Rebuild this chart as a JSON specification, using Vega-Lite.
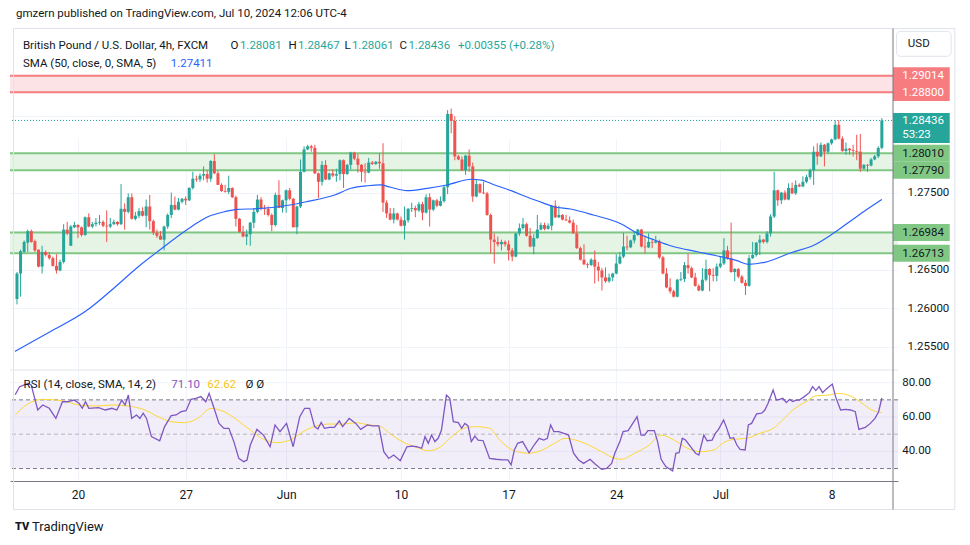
{
"$schema":"https://vega.github.io/schema/vega-lite/v6.json",
"width":888,"height":453,
"autosize":{"type":"none"},
"padding":{"left":10,"top":28,"right":72,"bottom":64},
"background":"#ffffff",
"config":{"view":{"stroke":null},"font":"Roboto"},
"datasets":{
"candles":[
{"i":0,"o":1.2612,"h":1.2647,"l":1.2605,"c":1.2645},{"i":1,"o":1.2645,"h":1.2676,"l":1.2615,"c":1.2674},{"i":2,"o":1.2673,"h":1.2688,"l":1.2672,"c":1.2686},{"i":3,"o":1.2685,"h":1.2702,"l":1.2673,"c":1.27},{"i":4,"o":1.27,"h":1.2702,"l":1.2685,"c":1.2686},{"i":5,"o":1.2687,"h":1.2689,"l":1.2673,"c":1.2675},{"i":6,"o":1.2676,"h":1.2676,"l":1.2653,"c":1.2654},{"i":7,"o":1.2654,"h":1.2681,"l":1.2645,"c":1.2673},{"i":8,"o":1.2673,"h":1.2675,"l":1.2667,"c":1.2669},{"i":9,"o":1.2669,"h":1.2673,"l":1.2663,"c":1.2665},
{"i":10,"o":1.2665,"h":1.2667,"l":1.2654,"c":1.2655},{"i":11,"o":1.2655,"h":1.267,"l":1.2645,"c":1.2649},{"i":12,"o":1.2649,"h":1.2663,"l":1.2648,"c":1.266},{"i":13,"o":1.266,"h":1.2709,"l":1.2658,"c":1.2702},{"i":14,"o":1.2702,"h":1.2712,"l":1.2695,"c":1.2697},{"i":15,"o":1.2681,"h":1.2708,"l":1.2681,"c":1.2706},{"i":16,"o":1.2705,"h":1.2712,"l":1.2704,"c":1.2708},{"i":17,"o":1.2708,"h":1.2709,"l":1.2691,"c":1.2705},{"i":18,"o":1.2705,"h":1.2706,"l":1.2693,"c":1.2695},{"i":19,"o":1.2695,"h":1.2719,"l":1.2694,"c":1.2718},
{"i":20,"o":1.2718,"h":1.2723,"l":1.2705,"c":1.2706},{"i":21,"o":1.2706,"h":1.2712,"l":1.2704,"c":1.2709},{"i":22,"o":1.2709,"h":1.2717,"l":1.2706,"c":1.2711},{"i":23,"o":1.2711,"h":1.2721,"l":1.2708,"c":1.2712},{"i":24,"o":1.2712,"h":1.2714,"l":1.2705,"c":1.2707},{"i":25,"o":1.2707,"h":1.2727,"l":1.2686,"c":1.2706},{"i":26,"o":1.2706,"h":1.2717,"l":1.2704,"c":1.2709},{"i":27,"o":1.2709,"h":1.2715,"l":1.2708,"c":1.2712},{"i":28,"o":1.2712,"h":1.2713,"l":1.2707,"c":1.2709},{"i":29,"o":1.2709,"h":1.2761,"l":1.2708,"c":1.2729},
{"i":30,"o":1.2729,"h":1.2736,"l":1.2702,"c":1.2725},{"i":31,"o":1.2725,"h":1.2749,"l":1.2723,"c":1.2744},{"i":32,"o":1.2744,"h":1.2749,"l":1.2715,"c":1.2716},{"i":33,"o":1.2716,"h":1.2725,"l":1.2714,"c":1.272},{"i":34,"o":1.272,"h":1.273,"l":1.2717,"c":1.2726},{"i":35,"o":1.2726,"h":1.2731,"l":1.2719,"c":1.272},{"i":36,"o":1.272,"h":1.2741,"l":1.2705,"c":1.2732},{"i":37,"o":1.2732,"h":1.2747,"l":1.2702,"c":1.2713},{"i":38,"o":1.2713,"h":1.2715,"l":1.2695,"c":1.2698},{"i":39,"o":1.2698,"h":1.2702,"l":1.2691,"c":1.2694},
{"i":40,"o":1.2694,"h":1.27,"l":1.2689,"c":1.2689},{"i":41,"o":1.2689,"h":1.2707,"l":1.2675,"c":1.2706},{"i":42,"o":1.2706,"h":1.2723,"l":1.2703,"c":1.2721},{"i":43,"o":1.2721,"h":1.275,"l":1.2717,"c":1.2734},{"i":44,"o":1.2734,"h":1.2745,"l":1.2727,"c":1.2728},{"i":45,"o":1.2728,"h":1.2743,"l":1.2727,"c":1.2738},{"i":46,"o":1.2738,"h":1.2743,"l":1.2736,"c":1.2742},{"i":47,"o":1.2742,"h":1.2745,"l":1.2734,"c":1.274},{"i":48,"o":1.274,"h":1.2757,"l":1.2739,"c":1.2756},{"i":49,"o":1.2756,"h":1.2777,"l":1.2754,"c":1.2768},
{"i":50,"o":1.2768,"h":1.2772,"l":1.2764,"c":1.2767},{"i":51,"o":1.2767,"h":1.2775,"l":1.2764,"c":1.2772},{"i":52,"o":1.2772,"h":1.2784,"l":1.2766,"c":1.2774},{"i":53,"o":1.2774,"h":1.2779,"l":1.2763,"c":1.2768},{"i":54,"o":1.2768,"h":1.2792,"l":1.2764,"c":1.2791},{"i":55,"o":1.2791,"h":1.28,"l":1.2774,"c":1.2775},{"i":56,"o":1.2775,"h":1.2778,"l":1.276,"c":1.276},{"i":57,"o":1.276,"h":1.2762,"l":1.2751,"c":1.2752},{"i":58,"o":1.2752,"h":1.276,"l":1.275,"c":1.2751},{"i":59,"o":1.2751,"h":1.2772,"l":1.2748,"c":1.2756},
{"i":60,"o":1.2756,"h":1.2757,"l":1.2743,"c":1.2744},{"i":61,"o":1.2744,"h":1.2746,"l":1.2706,"c":1.2716},{"i":62,"o":1.2716,"h":1.2717,"l":1.2698,"c":1.2699},{"i":63,"o":1.2699,"h":1.2707,"l":1.2692,"c":1.2693},{"i":64,"o":1.2693,"h":1.2702,"l":1.2682,"c":1.2696},{"i":65,"o":1.2696,"h":1.2712,"l":1.2681,"c":1.2711},{"i":66,"o":1.2711,"h":1.273,"l":1.2704,"c":1.2725},{"i":67,"o":1.2725,"h":1.2747,"l":1.2723,"c":1.2741},{"i":68,"o":1.2741,"h":1.2744,"l":1.2727,"c":1.273},{"i":69,"o":1.273,"h":1.2734,"l":1.2721,"c":1.2729},
{"i":70,"o":1.2729,"h":1.2732,"l":1.2719,"c":1.2721},{"i":71,"o":1.2721,"h":1.2723,"l":1.27,"c":1.2708},{"i":72,"o":1.2708,"h":1.275,"l":1.2706,"c":1.2747},{"i":73,"o":1.2747,"h":1.2766,"l":1.273,"c":1.273},{"i":74,"o":1.273,"h":1.2741,"l":1.2724,"c":1.274},{"i":75,"o":1.274,"h":1.2754,"l":1.2724,"c":1.2753},{"i":76,"o":1.2753,"h":1.2756,"l":1.274,"c":1.2742},{"i":77,"o":1.2742,"h":1.2743,"l":1.2705,"c":1.2705},{"i":78,"o":1.2705,"h":1.2733,"l":1.2696,"c":1.2732},{"i":79,"o":1.2732,"h":1.2793,"l":1.273,"c":1.2777},
{"i":80,"o":1.2777,"h":1.281,"l":1.2776,"c":1.2806},{"i":81,"o":1.2806,"h":1.2812,"l":1.2805,"c":1.281},{"i":82,"o":1.281,"h":1.2812,"l":1.2803,"c":1.2808},{"i":83,"o":1.2808,"h":1.2812,"l":1.2774,"c":1.2775},{"i":84,"o":1.2775,"h":1.2776,"l":1.2743,"c":1.2764},{"i":85,"o":1.2764,"h":1.2791,"l":1.2759,"c":1.2786},{"i":86,"o":1.2786,"h":1.2792,"l":1.2766,"c":1.2767},{"i":87,"o":1.2767,"h":1.2776,"l":1.2766,"c":1.2775},{"i":88,"o":1.2775,"h":1.278,"l":1.277,"c":1.2772},{"i":89,"o":1.2772,"h":1.2781,"l":1.2764,"c":1.2774},
{"i":90,"o":1.2774,"h":1.2793,"l":1.2766,"c":1.2792},{"i":91,"o":1.2792,"h":1.2793,"l":1.2756,"c":1.2774},{"i":92,"o":1.2774,"h":1.2787,"l":1.2773,"c":1.2786},{"i":93,"o":1.2786,"h":1.2803,"l":1.278,"c":1.2802},{"i":94,"o":1.2802,"h":1.2803,"l":1.2792,"c":1.2794},{"i":95,"o":1.2794,"h":1.28,"l":1.2776,"c":1.2786},{"i":96,"o":1.2786,"h":1.2787,"l":1.2764,"c":1.2777},{"i":97,"o":1.2777,"h":1.2788,"l":1.2763,"c":1.2776},{"i":98,"o":1.2776,"h":1.2795,"l":1.2775,"c":1.2789},{"i":99,"o":1.2789,"h":1.2791,"l":1.2786,"c":1.2787},
{"i":100,"o":1.2787,"h":1.2791,"l":1.2786,"c":1.279},{"i":101,"o":1.279,"h":1.2801,"l":1.2781,"c":1.2788},{"i":102,"o":1.2788,"h":1.2814,"l":1.2725,"c":1.2737},{"i":103,"o":1.2737,"h":1.274,"l":1.2717,"c":1.2723},{"i":104,"o":1.2723,"h":1.273,"l":1.2714,"c":1.2715},{"i":105,"o":1.2715,"h":1.273,"l":1.271,"c":1.2723},{"i":106,"o":1.2723,"h":1.2724,"l":1.2714,"c":1.2715},{"i":107,"o":1.2715,"h":1.2719,"l":1.2706,"c":1.2707},{"i":108,"o":1.2707,"h":1.2732,"l":1.2689,"c":1.2714},{"i":109,"o":1.2714,"h":1.273,"l":1.2711,"c":1.2729},
{"i":110,"o":1.2729,"h":1.2737,"l":1.2725,"c":1.273},{"i":111,"o":1.273,"h":1.2733,"l":1.2718,"c":1.2727},{"i":112,"o":1.2727,"h":1.2738,"l":1.2725,"c":1.2735},{"i":113,"o":1.2735,"h":1.2738,"l":1.2714,"c":1.2724},{"i":114,"o":1.2724,"h":1.2748,"l":1.2723,"c":1.2744},{"i":115,"o":1.2744,"h":1.2749,"l":1.2706,"c":1.2728},{"i":116,"o":1.2728,"h":1.2741,"l":1.2726,"c":1.274},{"i":117,"o":1.274,"h":1.2742,"l":1.2731,"c":1.2733},{"i":118,"o":1.2733,"h":1.2745,"l":1.2732,"c":1.2739},{"i":119,"o":1.2739,"h":1.276,"l":1.2737,"c":1.2757},
{"i":120,"o":1.2757,"h":1.2857,"l":1.2748,"c":1.2852},{"i":121,"o":1.2852,"h":1.2859,"l":1.2827,"c":1.2843},{"i":122,"o":1.2843,"h":1.2849,"l":1.2792,"c":1.2797},{"i":123,"o":1.2797,"h":1.2799,"l":1.2792,"c":1.2793},{"i":124,"o":1.2793,"h":1.2797,"l":1.2778,"c":1.2779},{"i":125,"o":1.2779,"h":1.2799,"l":1.2773,"c":1.2798},{"i":126,"o":1.2798,"h":1.2806,"l":1.2777,"c":1.2784},{"i":127,"o":1.2784,"h":1.2789,"l":1.2738,"c":1.2745},{"i":128,"o":1.2745,"h":1.2767,"l":1.2744,"c":1.2761},{"i":129,"o":1.2761,"h":1.2762,"l":1.2749,"c":1.275},
{"i":130,"o":1.275,"h":1.2764,"l":1.2748,"c":1.2749},{"i":131,"o":1.2749,"h":1.2751,"l":1.272,"c":1.2721},{"i":132,"o":1.2721,"h":1.2723,"l":1.2671,"c":1.2689},{"i":133,"o":1.2689,"h":1.2697,"l":1.2658,"c":1.2686},{"i":134,"o":1.2686,"h":1.2693,"l":1.268,"c":1.2683},{"i":135,"o":1.2683,"h":1.2689,"l":1.2675,"c":1.2686},{"i":136,"o":1.2686,"h":1.2688,"l":1.268,"c":1.2683},{"i":137,"o":1.2683,"h":1.2688,"l":1.2662,"c":1.2675},{"i":138,"o":1.2675,"h":1.2678,"l":1.2661,"c":1.2667},{"i":139,"o":1.2667,"h":1.2698,"l":1.2666,"c":1.2697},
{"i":140,"o":1.2697,"h":1.271,"l":1.2694,"c":1.2704},{"i":141,"o":1.2704,"h":1.2717,"l":1.2702,"c":1.2709},{"i":142,"o":1.2709,"h":1.2711,"l":1.2693,"c":1.2694},{"i":143,"o":1.2694,"h":1.2704,"l":1.2679,"c":1.268},{"i":144,"o":1.268,"h":1.2696,"l":1.267,"c":1.2691},{"i":145,"o":1.2691,"h":1.2721,"l":1.269,"c":1.2702},{"i":146,"o":1.2702,"h":1.2711,"l":1.2701,"c":1.2708},{"i":147,"o":1.2708,"h":1.2711,"l":1.2701,"c":1.2703},{"i":148,"o":1.2703,"h":1.271,"l":1.2702,"c":1.2707},{"i":149,"o":1.2707,"h":1.2734,"l":1.2701,"c":1.2733},
{"i":150,"o":1.2733,"h":1.274,"l":1.2717,"c":1.2718},{"i":151,"o":1.2718,"h":1.2733,"l":1.2717,"c":1.2721},{"i":152,"o":1.2721,"h":1.2722,"l":1.2714,"c":1.2715},{"i":153,"o":1.2715,"h":1.2721,"l":1.2713,"c":1.2714},{"i":154,"o":1.2714,"h":1.2719,"l":1.271,"c":1.2711},{"i":155,"o":1.2711,"h":1.2715,"l":1.2697,"c":1.2697},{"i":156,"o":1.2697,"h":1.2708,"l":1.2677,"c":1.2678},{"i":157,"o":1.2678,"h":1.268,"l":1.2662,"c":1.2663},{"i":158,"o":1.2663,"h":1.2683,"l":1.2656,"c":1.2657},{"i":159,"o":1.2657,"h":1.2659,"l":1.2652,"c":1.2656},
{"i":160,"o":1.2656,"h":1.2665,"l":1.2655,"c":1.2663},{"i":161,"o":1.2663,"h":1.2675,"l":1.2632,"c":1.2654},{"i":162,"o":1.2654,"h":1.266,"l":1.2635,"c":1.2649},{"i":163,"o":1.2649,"h":1.2652,"l":1.2623,"c":1.264},{"i":164,"o":1.264,"h":1.2653,"l":1.2633,"c":1.2635},{"i":165,"o":1.2635,"h":1.2645,"l":1.2633,"c":1.264},{"i":166,"o":1.264,"h":1.2646,"l":1.2635,"c":1.2645},{"i":167,"o":1.2645,"h":1.267,"l":1.2644,"c":1.2658},{"i":168,"o":1.2658,"h":1.2673,"l":1.2657,"c":1.2667},{"i":169,"o":1.2667,"h":1.2698,"l":1.2665,"c":1.268},
{"i":170,"o":1.268,"h":1.2694,"l":1.2675,"c":1.2679},{"i":171,"o":1.2679,"h":1.2689,"l":1.2678,"c":1.2688},{"i":172,"o":1.2688,"h":1.2699,"l":1.2684,"c":1.2695},{"i":173,"o":1.2695,"h":1.2703,"l":1.2694,"c":1.2702},{"i":174,"o":1.2702,"h":1.2703,"l":1.2679,"c":1.268},{"i":175,"o":1.268,"h":1.2694,"l":1.2671,"c":1.2679},{"i":176,"o":1.2679,"h":1.2697,"l":1.2678,"c":1.2686},{"i":177,"o":1.2686,"h":1.2689,"l":1.2678,"c":1.2685},{"i":178,"o":1.2685,"h":1.2694,"l":1.2684,"c":1.2687},{"i":179,"o":1.2687,"h":1.2689,"l":1.2664,"c":1.2666},
{"i":180,"o":1.2666,"h":1.2668,"l":1.2644,"c":1.2645},{"i":181,"o":1.2645,"h":1.2652,"l":1.2626,"c":1.2627},{"i":182,"o":1.2627,"h":1.2639,"l":1.2619,"c":1.2622},{"i":183,"o":1.2622,"h":1.2624,"l":1.2614,"c":1.2615},{"i":184,"o":1.2615,"h":1.2638,"l":1.2614,"c":1.2637},{"i":185,"o":1.2637,"h":1.2647,"l":1.2635,"c":1.2638},{"i":186,"o":1.2638,"h":1.266,"l":1.2634,"c":1.2656},{"i":187,"o":1.2656,"h":1.2671,"l":1.2645,"c":1.2652},{"i":188,"o":1.2652,"h":1.2654,"l":1.2639,"c":1.264},{"i":189,"o":1.264,"h":1.2646,"l":1.2628,"c":1.2629},
{"i":190,"o":1.2629,"h":1.2631,"l":1.2622,"c":1.2623},{"i":191,"o":1.2623,"h":1.2652,"l":1.2622,"c":1.2637},{"i":192,"o":1.2637,"h":1.2663,"l":1.2635,"c":1.2651},{"i":193,"o":1.2651,"h":1.2652,"l":1.2622,"c":1.2643},{"i":194,"o":1.2643,"h":1.2652,"l":1.2635,"c":1.2642},{"i":195,"o":1.2642,"h":1.2658,"l":1.2635,"c":1.2654},{"i":196,"o":1.2654,"h":1.2667,"l":1.2652,"c":1.2658},{"i":197,"o":1.2658,"h":1.2691,"l":1.2656,"c":1.2675},{"i":198,"o":1.2675,"h":1.2681,"l":1.2663,"c":1.2665},{"i":199,"o":1.2665,"h":1.2711,"l":1.2646,"c":1.2647},
{"i":200,"o":1.2647,"h":1.2652,"l":1.2635,"c":1.2651},{"i":201,"o":1.2651,"h":1.2652,"l":1.2639,"c":1.2641},{"i":202,"o":1.2641,"h":1.2643,"l":1.2632,"c":1.2633},{"i":203,"o":1.2633,"h":1.2637,"l":1.2617,"c":1.2629},{"i":204,"o":1.2629,"h":1.2669,"l":1.2628,"c":1.2665},{"i":205,"o":1.2665,"h":1.2686,"l":1.2664,"c":1.2669},{"i":206,"o":1.2669,"h":1.2686,"l":1.2667,"c":1.2685},{"i":207,"o":1.2685,"h":1.2695,"l":1.2669,"c":1.2689},{"i":208,"o":1.2689,"h":1.269,"l":1.2684,"c":1.2686},{"i":209,"o":1.2686,"h":1.27,"l":1.2684,"c":1.2697},
{"i":210,"o":1.2697,"h":1.2722,"l":1.2693,"c":1.2719},{"i":211,"o":1.2719,"h":1.2777,"l":1.2717,"c":1.2753},{"i":212,"o":1.2753,"h":1.2754,"l":1.2733,"c":1.274},{"i":213,"o":1.274,"h":1.2751,"l":1.2735,"c":1.275},{"i":214,"o":1.275,"h":1.2753,"l":1.274,"c":1.2741},{"i":215,"o":1.2741,"h":1.2762,"l":1.274,"c":1.2756},{"i":216,"o":1.2756,"h":1.2763,"l":1.2748,"c":1.2749},{"i":217,"o":1.2749,"h":1.2766,"l":1.2747,"c":1.276},{"i":218,"o":1.276,"h":1.2762,"l":1.2757,"c":1.2758},{"i":219,"o":1.2758,"h":1.2771,"l":1.2757,"c":1.2764},
{"i":220,"o":1.2764,"h":1.2773,"l":1.2762,"c":1.277},{"i":221,"o":1.277,"h":1.2781,"l":1.2767,"c":1.2779},{"i":222,"o":1.2779,"h":1.281,"l":1.276,"c":1.2803},{"i":223,"o":1.2803,"h":1.2814,"l":1.2786,"c":1.2797},{"i":224,"o":1.2797,"h":1.2815,"l":1.2796,"c":1.2812},{"i":225,"o":1.2812,"h":1.2813,"l":1.2784,"c":1.2803},{"i":226,"o":1.2803,"h":1.2815,"l":1.2801,"c":1.2814},{"i":227,"o":1.2814,"h":1.282,"l":1.2812,"c":1.2819},{"i":228,"o":1.2819,"h":1.2844,"l":1.2818,"c":1.2838},{"i":229,"o":1.2838,"h":1.2844,"l":1.2819,"c":1.282},
{"i":230,"o":1.282,"h":1.2823,"l":1.2803,"c":1.2804},{"i":231,"o":1.2804,"h":1.2815,"l":1.2799,"c":1.2807},{"i":232,"o":1.2807,"h":1.2808,"l":1.2799,"c":1.2805},{"i":233,"o":1.2805,"h":1.2812,"l":1.2797,"c":1.2804},{"i":234,"o":1.2804,"h":1.2825,"l":1.2792,"c":1.2803},{"i":235,"o":1.2803,"h":1.2826,"l":1.2777,"c":1.2781},{"i":236,"o":1.2781,"h":1.2787,"l":1.278,"c":1.2786},{"i":237,"o":1.2786,"h":1.2787,"l":1.2777,"c":1.2785},{"i":238,"o":1.2785,"h":1.2795,"l":1.2784,"c":1.2793},{"i":239,"o":1.2793,"h":1.2799,"l":1.2792,"c":1.2797},
{"i":240,"o":1.2797,"h":1.281,"l":1.2795,"c":1.2808},{"i":241,"o":1.28081,"h":1.28467,"l":1.28061,"c":1.28436}
],
"sma":[{"i":-0.55,"v":1.2544},{"i":9.1,"v":1.25692},{"i":19.6,"v":1.25977},{"i":26.4,"v":1.26237},{"i":33.8,"v":1.26539},{"i":39.4,"v":1.26743},{"i":48.6,"v":1.27058},{"i":53.2,"v":1.27187},{"i":57.8,"v":1.27252},{"i":61.4,"v":1.27283},{"i":67.0,"v":1.27291},{"i":76.1,"v":1.27339},{"i":80.7,"v":1.27382},{"i":88.5,"v":1.27469},{"i":93.1,"v":1.27556},{"i":97.7,"v":1.27589},{"i":101.4,"v":1.27599},{"i":104.1,"v":1.27569},{"i":108.7,"v":1.27525},{"i":114.3,"v":1.27556},{"i":119.8,"v":1.27599},{"i":126.7,"v":1.27673},{"i":129.4,"v":1.27663},{"i":133.1,"v":1.27599},{"i":137.7,"v":1.27525},{"i":142.3,"v":1.27439},{"i":146.9,"v":1.27361},{"i":149.6,"v":1.27317},{"i":154.2,"v":1.27287},{"i":160.6,"v":1.27209},{"i":168.4,"v":1.27093},{"i":172.1,"v":1.26993},{"i":177.6,"v":1.26885},{"i":183.1,"v":1.26798},{"i":189.6,"v":1.26733},{"i":196.0,"v":1.26669},{"i":200.6,"v":1.26617},{"i":203.8,"v":1.2657},{"i":208.4,"v":1.26596},{"i":215.7,"v":1.2672},{"i":222.2,"v":1.2682},{"i":226.8,"v":1.2695},{"i":231.4,"v":1.27102},{"i":235.9,"v":1.27252},{"i":241,"v":1.27411}],
"rsi":[{"i":-0.5,"r":73},{"i":0.74,"r":77.7},{"i":3.03,"r":79.6},{"i":3.95,"r":78.7},{"i":5.79,"r":64.1},{"i":7.17,"r":67.0},{"i":9.0,"r":65.1},{"i":10.84,"r":59.2},{"i":12.67,"r":68.9},{"i":14.05,"r":68.9},{"i":15.89,"r":69.9},{"i":17.27,"r":68.0},{"i":18.19,"r":65.1},{"i":19.1,"r":68.9},{"i":20.02,"r":65.1},{"i":22.78,"r":65.5},{"i":24.61,"r":64.1},{"i":26.45,"r":65.1},{"i":27.83,"r":64.1},{"i":29.2,"r":69.9},{"i":30.12,"r":67.0},{"i":31.04,"r":72.8},{"i":31.96,"r":59.2},{"i":33.34,"r":61.2},{"i":34.26,"r":59.2},{"i":35.17,"r":62.2},{"i":36.09,"r":59.2},{"i":37.47,"r":48.6},{"i":39.77,"r":46.2},{"i":41.14,"r":54.4},{"i":42.98,"r":60.8},{"i":44.36,"r":61.2},{"i":45.74,"r":63.1},{"i":47.11,"r":63.7},{"i":48.49,"r":70.3},{"i":49.87,"r":70.9},{"i":51.25,"r":71.9},{"i":52.62,"r":68.9},{"i":53.54,"r":73.8},{"i":54.46,"r":68.0},{"i":56.3,"r":56.3},{"i":57.68,"r":53.4},{"i":59.05,"r":53.4},{"i":60.43,"r":45.7},{"i":61.81,"r":35.9},{"i":63.19,"r":34.0},{"i":64.1,"r":35.0},{"i":65.02,"r":43.7},{"i":66.86,"r":52.8},{"i":68.7,"r":49.5},{"i":70.53,"r":42.7},{"i":71.91,"r":55.4},{"i":73.29,"r":51.5},{"i":75.12,"r":56.3},{"i":76.96,"r":42.7},{"i":78.8,"r":60.2},{"i":80.17,"r":65.1},{"i":81.55,"r":65.1},{"i":82.93,"r":54.4},{"i":83.85,"r":53.0},{"i":84.77,"r":56.9},{"i":85.69,"r":53.4},{"i":87.06,"r":54.0},{"i":88.44,"r":54.0},{"i":89.82,"r":57.7},{"i":90.74,"r":54.4},{"i":92.58,"r":59.2},{"i":94.41,"r":56.3},{"i":95.79,"r":52.8},{"i":97.63,"r":55.4},{"i":99.0,"r":54.8},{"i":100.84,"r":54.8},{"i":102.22,"r":39.8},{"i":103.6,"r":35.9},{"i":104.97,"r":37.9},{"i":106.81,"r":34.6},{"i":108.65,"r":42.7},{"i":110.03,"r":43.1},{"i":111.4,"r":42.7},{"i":112.78,"r":41.8},{"i":113.7,"r":48.6},{"i":114.62,"r":44.7},{"i":115.53,"r":49.5},{"i":116.45,"r":45.7},{"i":117.37,"r":47.6},{"i":118.29,"r":52.4},{"i":119.67,"r":72.8},{"i":120.6,"r":70.9},{"i":121.6,"r":57.3},{"i":123.0,"r":56.7},{"i":123.9,"r":53.4},{"i":124.8,"r":56.3},{"i":125.7,"r":54.8},{"i":126.6,"r":45.7},{"i":127.6,"r":48.9},{"i":128.5,"r":46.6},{"i":129.9,"r":46.2},{"i":131.7,"r":35.9},{"i":133.5,"r":35.4},{"i":135.4,"r":35.0},{"i":136.8,"r":35.0},{"i":137.7,"r":32.1},{"i":138.6,"r":40.8},{"i":139.5,"r":44.7},{"i":140.9,"r":45.7},{"i":142.7,"r":39.2},{"i":144.1,"r":43.7},{"i":145.5,"r":47.6},{"i":146.8,"r":46.6},{"i":147.8,"r":47.6},{"i":148.7,"r":55.4},{"i":149.6,"r":51.5},{"i":151.0,"r":51.5},{"i":152.4,"r":50.5},{"i":153.7,"r":49.5},{"i":155.1,"r":38.9},{"i":156.5,"r":35.0},{"i":157.9,"r":33.0},{"i":159.7,"r":35.4},{"i":161.1,"r":32.6},{"i":162.9,"r":29.5},{"i":164.3,"r":30.1},{"i":165.7,"r":33.0},{"i":166.6,"r":38.9},{"i":168.0,"r":45.7},{"i":168.9,"r":51.5},{"i":170.3,"r":52.1},{"i":171.6,"r":56.3},{"i":172.8,"r":60.2},{"i":173.9,"r":49.5},{"i":174.9,"r":49.5},{"i":175.8,"r":52.1},{"i":177.6,"r":52.1},{"i":178.5,"r":45.7},{"i":179.5,"r":35.4},{"i":180.8,"r":31.1},{"i":182.7,"r":28.6},{"i":183.6,"r":38.9},{"i":184.5,"r":39.2},{"i":185.4,"r":47.6},{"i":186.3,"r":46.6},{"i":187.7,"r":42.7},{"i":189.1,"r":38.9},{"i":190.0,"r":37.9},{"i":191.4,"r":49.5},{"i":192.3,"r":46.2},{"i":193.7,"r":46.6},{"i":194.6,"r":50.5},{"i":195.5,"r":52.8},{"i":196.9,"r":58.3},{"i":197.8,"r":53.4},{"i":198.7,"r":47.6},{"i":199.7,"r":48.0},{"i":200.6,"r":43.7},{"i":201.5,"r":41.2},{"i":202.9,"r":40.8},{"i":203.8,"r":55.4},{"i":204.7,"r":56.3},{"i":206.1,"r":61.8},{"i":207.5,"r":62.2},{"i":208.4,"r":64.1},{"i":209.3,"r":68.0},{"i":210.7,"r":75.7},{"i":211.6,"r":69.9},{"i":212.5,"r":70.3},{"i":213.4,"r":70.9},{"i":214.4,"r":68.4},{"i":215.3,"r":70.3},{"i":216.2,"r":69.0},{"i":217.1,"r":69.9},{"i":218.0,"r":69.9},{"i":219.4,"r":71.9},{"i":220.8,"r":74.2},{"i":221.7,"r":77.7},{"i":222.6,"r":75.4},{"i":223.5,"r":77.7},{"i":224.5,"r":74.2},{"i":225.4,"r":76.1},{"i":226.3,"r":77.7},{"i":227.2,"r":79.2},{"i":228.1,"r":71.9},{"i":229.5,"r":64.1},{"i":230.9,"r":64.5},{"i":232.3,"r":64.1},{"i":233.6,"r":63.1},{"i":234.6,"r":52.8},{"i":236.4,"r":54.0},{"i":237.8,"r":56.3},{"i":239.1,"r":59.2},{"i":240.1,"r":63.1},{"i":241,"r":71.1}],
"rsima":[{"i":-0.5,"m":61.2},{"i":2.57,"m":67.0},{"i":7.16,"m":70.3},{"i":12.67,"m":69.5},{"i":17.27,"m":67.0},{"i":21.86,"m":66.4},{"i":26.45,"m":67.0},{"i":31.04,"m":66.4},{"i":35.63,"m":64.1},{"i":39.3,"m":60.2},{"i":42.98,"m":57.3},{"i":46.65,"m":56.7},{"i":50.33,"m":59.2},{"i":54.0,"m":65.0},{"i":57.68,"m":63.1},{"i":61.35,"m":58.3},{"i":65.02,"m":52.4},{"i":68.7,"m":47.0},{"i":72.37,"m":45.1},{"i":76.04,"m":46.6},{"i":79.72,"m":51.5},{"i":83.39,"m":54.8},{"i":87.06,"m":55.9},{"i":90.74,"m":55.9},{"i":94.41,"m":56.7},{"i":98.08,"m":55.4},{"i":100.84,"m":54.8},{"i":104.5,"m":49.5},{"i":107.26,"m":45.7},{"i":110.94,"m":42.7},{"i":114.62,"m":40.4},{"i":117.37,"m":41.8},{"i":120.13,"m":46.6},{"i":122.88,"m":51.5},{"i":124.35,"m":53.4},{"i":128.0,"m":54.4},{"i":131.7,"m":53.4},{"i":134.5,"m":46.6},{"i":138.1,"m":40.8},{"i":142.7,"m":38.9},{"i":146.4,"m":40.8},{"i":150.1,"m":45.1},{"i":152.8,"m":47.6},{"i":155.6,"m":46.6},{"i":159.3,"m":43.7},{"i":162.9,"m":39.8},{"i":166.6,"m":35.9},{"i":168.4,"m":35.4},{"i":172.1,"m":38.9},{"i":175.8,"m":43.1},{"i":179.5,"m":49.5},{"i":183.1,"m":46.6},{"i":186.8,"m":41.8},{"i":190.5,"m":39.8},{"i":194.1,"m":40.8},{"i":196.9,"m":45.1},{"i":199.7,"m":47.0},{"i":203.3,"m":47.6},{"i":207.0,"m":50.5},{"i":210.7,"m":53.4},{"i":213.4,"m":58.3},{"i":216.2,"m":64.1},{"i":219.9,"m":69.0},{"i":222.6,"m":72.3},{"i":226.3,"m":72.8},{"i":228.6,"m":73.8},{"i":232.7,"m":71.9},{"i":235.5,"m":68.0},{"i":238.2,"m":64.1},{"i":241,"m":62.62}],
"bands":[{"lo":1.288,"hi":1.29014,"k":"r"},{"lo":1.2779,"hi":1.2801,"k":"g"},{"lo":1.26713,"hi":1.26984,"k":"g"}],
"tags":[{"p":1.29014,"t":"1.29014","k":"r"},{"p":1.288,"t":"1.28800","k":"r"},{"p":1.2801,"t":"1.28010","k":"g"},{"p":1.2779,"t":"1.27790","k":"g"},{"p":1.26984,"t":"1.26984","k":"g"},{"p":1.26713,"t":"1.26713","k":"g"}],
"rsigrid":[{"v":80},{"v":60},{"v":40}],
"rsilab":[{"v":80,"t":"80.00"},{"v":60,"t":"60.00"},{"v":40,"t":"40.00"}]
},
"layer":[
{"layer":[
{"data":{"name":"bands"},"mark":{"type":"rect"},
 "encoding":{"y":{"field":"lo","type":"quantitative","scale":{"domain":[1.251991,1.296349],"range":[342,0],"nice":false,"zero":false},
   "axis":{"orient":"right","values":[1.255,1.26,1.265,1.27,1.275,1.28,1.285,1.29],"labelExpr":"(datum.value > 1.2695 && datum.value < 1.2705) || datum.value > 1.2795 ? '' : format(datum.value, '.5f')","title":null,"domain":false,"ticks":false,"labelPadding":9,"labelFontSize":11.5,"labelFont":"Roboto","labelColor":"#131722","grid":true,"gridColor":"#f0f3fa","labelAlign":"left","labelBaseline":"middle"}},
  "y2":{"field":"hi"},
  "color":{"condition":{"test":"datum.k=='r'","value":"#fce3e5"},"value":"#e6f4e6"}}},
{"data":{"name":"bands"},"mark":{"type":"rule","strokeWidth":2},
 "encoding":{"y":{"field":"lo","type":"quantitative"},"color":{"condition":{"test":"datum.k=='r'","value":"#f77c80"},"value":"#81c784"}}},
{"data":{"name":"bands"},"mark":{"type":"rule","strokeWidth":2},
 "encoding":{"y":{"field":"hi","type":"quantitative"},"color":{"condition":{"test":"datum.k=='r'","value":"#f77c80"},"value":"#81c784"}}},
{"data":{"values":[{"p":1.251991}]},"mark":{"type":"rule","color":"#e0e3eb","strokeWidth":1},
 "encoding":{"y":{"field":"p","type":"quantitative"}}},
{"data":{"values":[{"p":1.28436}]},"mark":{"type":"rule","color":"#26a69a","strokeWidth":1,"strokeDash":[1,2]},
 "encoding":{"y":{"field":"p","type":"quantitative"}}},
{"data":{"name":"candles"},"mark":{"type":"rule","strokeWidth":1},
 "encoding":{"x":{"field":"i","type":"quantitative","scale":{"domain":[-0.551,244.11],"nice":false,"zero":false},
   "axis":{"values":[17,47,75,107,137,167,196,227],"labelExpr":"datum.value==17?'20':datum.value==47?'27':datum.value==75?'Jun':datum.value==107?'10':datum.value==137?'17':datum.value==167?'24':datum.value==196?'Jul':'8'","title":null,"grid":true,"gridColor":"#f0f3fa","domain":true,"domainColor":"#787b86","ticks":false,"labelPadding":8,"labelFontSize":12,"labelFont":"Roboto","labelColor":"#131722","labelFlush":false}},
  "y":{"field":"l","type":"quantitative"},"y2":{"field":"h"},
  "color":{"condition":{"test":"datum.c >= datum.o","value":"#26a69a"},"value":"#ef5350"}}},
{"data":{"name":"candles"},"mark":{"type":"bar","size":3},
 "encoding":{"x":{"field":"i","type":"quantitative"},"y":{"field":"o","type":"quantitative"},"y2":{"field":"c"},
  "color":{"condition":{"test":"datum.c >= datum.o","value":"#26a69a"},"value":"#ef5350"}}},
{"data":{"name":"sma"},"mark":{"type":"line","color":"#2962ff","strokeWidth":1.2,"interpolate":"monotone"},
 "encoding":{"x":{"field":"i","type":"quantitative"},"y":{"field":"v","type":"quantitative"}}},
{"data":{"values":[{"t":"gmzern published on TradingView.com, Jul 10, 2024 12:06 UTC-4"}]},"mark":{"type":"text","align":"left","baseline":"middle","fontSize":11.5,"color":"#131722","dx":1},
 "encoding":{"x":{"datum":-0.551},"y":{"datum":1.29816},"text":{"field":"t"}}},
{"data":{"values":[{"t":"British Pound / U.S. Dollar, 4h, FXCM"}]},"mark":{"type":"text","align":"left","baseline":"middle","fontSize":11.5,"color":"#131722","dx":0},
 "encoding":{"x":{"datum":1.653},"y":{"datum":1.29407},"text":{"field":"t"}}},
{"data":{"values":[{"t":"O"}]},"mark":{"type":"text","align":"left","baseline":"middle","fontSize":11.5,"color":"#131722","dx":207.5},
 "encoding":{"x":{"datum":1.653},"y":{"datum":1.29407},"text":{"field":"t"}}},
{"data":{"values":[{"t":"1.28081"}]},"mark":{"type":"text","align":"left","baseline":"middle","fontSize":11.5,"color":"#26a69a","dx":217},
 "encoding":{"x":{"datum":1.653},"y":{"datum":1.29407},"text":{"field":"t"}}},
{"data":{"values":[{"t":"H"}]},"mark":{"type":"text","align":"left","baseline":"middle","fontSize":11.5,"color":"#131722","dx":265.5},
 "encoding":{"x":{"datum":1.653},"y":{"datum":1.29407},"text":{"field":"t"}}},
{"data":{"values":[{"t":"1.28467"}]},"mark":{"type":"text","align":"left","baseline":"middle","fontSize":11.5,"color":"#26a69a","dx":275},
 "encoding":{"x":{"datum":1.653},"y":{"datum":1.29407},"text":{"field":"t"}}},
{"data":{"values":[{"t":"L"}]},"mark":{"type":"text","align":"left","baseline":"middle","fontSize":11.5,"color":"#131722","dx":321.5},
 "encoding":{"x":{"datum":1.653},"y":{"datum":1.29407},"text":{"field":"t"}}},
{"data":{"values":[{"t":"1.28061"}]},"mark":{"type":"text","align":"left","baseline":"middle","fontSize":11.5,"color":"#26a69a","dx":329},
 "encoding":{"x":{"datum":1.653},"y":{"datum":1.29407},"text":{"field":"t"}}},
{"data":{"values":[{"t":"C"}]},"mark":{"type":"text","align":"left","baseline":"middle","fontSize":11.5,"color":"#131722","dx":376.5},
 "encoding":{"x":{"datum":1.653},"y":{"datum":1.29407},"text":{"field":"t"}}},
{"data":{"values":[{"t":"1.28436"}]},"mark":{"type":"text","align":"left","baseline":"middle","fontSize":11.5,"color":"#26a69a","dx":385.5},
 "encoding":{"x":{"datum":1.653},"y":{"datum":1.29407},"text":{"field":"t"}}},
{"data":{"values":[{"t":"+0.00355 (+0.28%)"}]},"mark":{"type":"text","align":"left","baseline":"middle","fontSize":11.5,"color":"#26a69a","dx":435},
 "encoding":{"x":{"datum":1.653},"y":{"datum":1.29407},"text":{"field":"t"}}},
{"data":{"values":[{"t":"SMA (50, close, 0, SMA, 5)"}]},"mark":{"type":"text","align":"left","baseline":"middle","fontSize":11.5,"color":"#131722","dx":0},
 "encoding":{"x":{"datum":1.653},"y":{"datum":1.29174},"text":{"field":"t"}}},
{"data":{"values":[{"t":"1.27411"}]},"mark":{"type":"text","align":"left","baseline":"middle","fontSize":11.5,"color":"#2962ff","dx":147.8},
 "encoding":{"x":{"datum":1.653},"y":{"datum":1.29174},"text":{"field":"t"}}},
{"data":{"name":"tags"},"mark":{"type":"point","shape":"M-1,-0.3L1,-0.3L1,0.3L-1,0.3Z","filled":true,"size":3215,"opacity":1,"strokeWidth":0},
 "encoding":{"x":{"datum":252.02},"y":{"field":"p","type":"quantitative"},"color":{"condition":{"test":"datum.k=='r'","value":"#f77c80"},"value":"#81c784"}}},
{"data":{"name":"tags"},"mark":{"type":"text","align":"left","baseline":"middle","fontSize":11.5,"dy":0.5},
 "encoding":{"x":{"datum":246.67},"y":{"field":"p","type":"quantitative"},"text":{"field":"t"},
  "color":{"condition":{"test":"datum.k=='r'","value":"#ffffff"},"value":"#131722"}}},
{"data":{"values":[{"p":1.28436,"t":"1.28436","s":"53:23"}]},"mark":{"type":"point","shape":"M-1,-0.265L1,-0.265L1,0.794L-1,0.794Z","filled":true,"size":3215,"opacity":1,"strokeWidth":0,"color":"#26a69a"},
 "encoding":{"x":{"datum":252.02},"y":{"field":"p","type":"quantitative"}}},
{"data":{"values":[{"p":1.28436,"t":"1.28436","s":"53:23"}]},"mark":{"type":"text","align":"left","baseline":"middle","fontSize":11.5,"dy":1,"color":"#ffffff"},
 "encoding":{"x":{"datum":246.67},"y":{"field":"p","type":"quantitative"},"text":{"field":"t"}}},
{"data":{"values":[{"p":1.28436,"t":"1.28436","s":"53:23"}]},"mark":{"type":"text","align":"left","baseline":"middle","fontSize":11.5,"dy":15,"color":"#ffffff"},
 "encoding":{"x":{"datum":246.67},"y":{"field":"p","type":"quantitative"},"text":{"field":"s"}}},
{"data":{"values":[{"t":"USD"}]},"mark":{"type":"rect","fill":"#ffffff","stroke":"#e0e3eb","cornerRadius":4},
 "encoding":{"x":{"datum":245.1},"x2":{"datum":260.3},"y":{"datum":1.29592},"y2":{"datum":1.29268}}},
{"data":{"values":[{"t":"USD"}]},"mark":{"type":"text","align":"left","baseline":"middle","fontSize":11.5,"color":"#131722"},
 "encoding":{"x":{"datum":248.25},"y":{"datum":1.29427},"text":{"field":"t"}}}
]},
{"layer":[
{"data":{"name":"rsigrid"},"mark":{"type":"rule","color":"#f0f3fa","strokeWidth":1},
 "encoding":{"y":{"field":"v","type":"quantitative","scale":{"domain":[22.74,86.233],"range":[453,344],"nice":false,"zero":false},"axis":null}}},
{"data":{"values":[{"a":70,"b":30}]},"mark":{"type":"rect","color":"#7e57c2","opacity":0.1},
 "encoding":{"y":{"field":"a","type":"quantitative","axis":null},"y2":{"field":"b"}}},
{"data":{"values":[{"v":70},{"v":30}]},"mark":{"type":"rule","color":"#787b86","strokeWidth":1,"strokeDash":[4,3]},
 "encoding":{"y":{"field":"v","type":"quantitative","axis":null}}},
{"data":{"values":[{"v":50}]},"mark":{"type":"rule","color":"#787b86","strokeWidth":1,"strokeDash":[4,3],"opacity":0.5},
 "encoding":{"y":{"field":"v","type":"quantitative","axis":null}}},
{"data":{"name":"rsima"},"mark":{"type":"line","color":"#fdd835","strokeWidth":1,"interpolate":"monotone"},
 "encoding":{"x":{"field":"i","type":"quantitative"},"y":{"field":"m","type":"quantitative","axis":null}}},
{"data":{"name":"rsi"},"mark":{"type":"line","color":"#7e57c2","strokeWidth":1.3},
 "encoding":{"x":{"field":"i","type":"quantitative"},"y":{"field":"r","type":"quantitative","axis":null}}},
{"data":{"name":"rsilab"},"mark":{"type":"text","align":"left","baseline":"middle","fontSize":11.5,"color":"#131722"},
 "encoding":{"x":{"datum":246.67},"y":{"field":"v","type":"quantitative","axis":null},"text":{"field":"t"}}},
{"data":{"values":[{"t":"RSI (14, close, SMA, 14, 2)"}]},"mark":{"type":"text","align":"left","baseline":"middle","fontSize":11.5,"color":"#131722","dx":0},
 "encoding":{"x":{"datum":1.846},"y":{"datum":78.66,"axis":null},"text":{"field":"t"}}},
{"data":{"values":[{"t":"71.10"}]},"mark":{"type":"text","align":"left","baseline":"middle","fontSize":11.5,"color":"#7e57c2","dx":147.6},
 "encoding":{"x":{"datum":1.846},"y":{"datum":78.66,"axis":null},"text":{"field":"t"}}},
{"data":{"values":[{"t":"62.62"}]},"mark":{"type":"text","align":"left","baseline":"middle","fontSize":11.5,"color":"#f5c518","dx":183.6},
 "encoding":{"x":{"datum":1.846},"y":{"datum":78.66,"axis":null},"text":{"field":"t"}}},
{"data":{"values":[{"t":"Ø   Ø"}]},"mark":{"type":"text","align":"left","baseline":"middle","fontSize":11.5,"color":"#131722","dx":222},
 "encoding":{"x":{"datum":1.846},"y":{"datum":78.66,"axis":null},"text":{"field":"t"}}},
{"data":{"values":[{"t":"box"}]},"mark":{"type":"rect","fill":null,"fillOpacity":0,"stroke":"#e0e3eb","strokeWidth":1},
 "encoding":{"x":{"datum":-0.964},"x2":{"datum":261.33},"y":{"datum":286.33,"axis":null},"y2":{"datum":6.14}}},
{"data":{"values":[{"t":"axis"}]},"mark":{"type":"rule","color":"#787b86","strokeWidth":1},
 "encoding":{"x":{"datum":244.11},"y":{"datum":286.33,"axis":null},"y2":{"datum":6.14}}},
{"data":{"values":[{"t":"TV"}]},"mark":{"type":"text","align":"left","baseline":"middle","fontSize":11,"fontWeight":900,"color":"#131722","dx":0},
 "encoding":{"x":{"datum":-0.551},"y":{"datum":-4.06,"axis":null},"text":{"field":"t"}}},
{"data":{"values":[{"t":"TradingView"}]},"mark":{"type":"text","align":"left","baseline":"middle","fontSize":13,"color":"#131722","dx":17},
 "encoding":{"x":{"datum":-0.551},"y":{"datum":-4.06,"axis":null},"text":{"field":"t"}}}
]}
],
"resolve":{"scale":{"y":"independent"},"axis":{"y":"independent"}}
}
